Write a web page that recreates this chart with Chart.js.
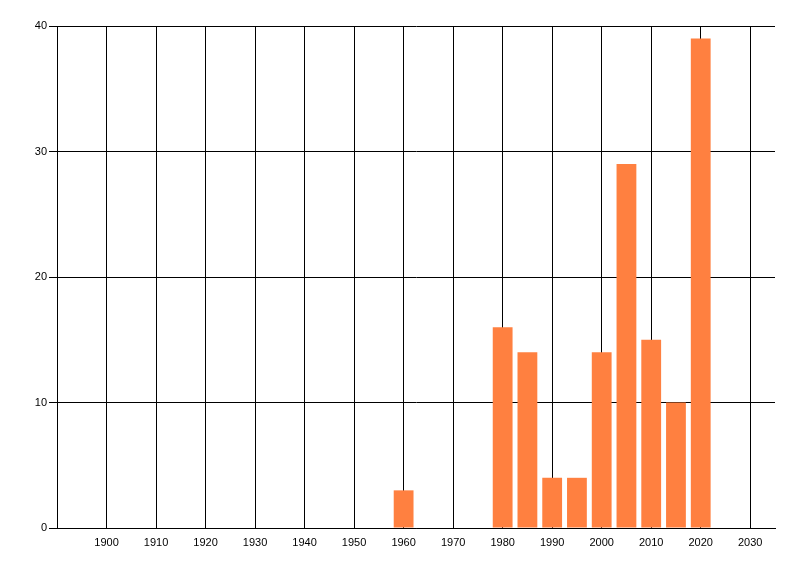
<!DOCTYPE html>
<html>
<head>
<meta charset="utf-8">
<script src="https://cdn.jsdelivr.net/npm/chart.js@4/dist/chart.umd.min.js"></script>
<style>
html,body{margin:0;padding:0;background:#fff;}
#wrap{width:800px;height:576px;position:relative;}
</style>
</head>
<body>
<div id="wrap"><canvas id="c" width="800" height="576"></canvas></div>
<script>
const years = [1960, 1980, 1985, 1990, 1995, 2000, 2005, 2010, 2015, 2020];
const counts = [3, 16, 14, 4, 4, 14, 29, 15, 10, 39];
const xTickValues = [1900, 1910, 1920, 1930, 1940, 1950, 1960, 1970, 1980, 1990, 2000, 2010, 2020, 2030];
const yTickValues = [0, 10, 20, 30, 40];
const xMin = 1890, xMax = 2035;
const yMin = 0, yMax = 40;

const points = years.map((yr, i) => ({x: yr, y: counts[i]}));
const font = {family: "'Liberation Sans', Arial, sans-serif", size: 11};

new Chart(document.getElementById('c'), {
  type: 'bar',
  data: {
    datasets: [{
      data: points,
      backgroundColor: 'rgb(255,128,64)',
      borderWidth: 0,
      barPercentage: 1.0,
      categoryPercentage: 0.8
    }]
  },
  options: {
    responsive: false,
    animation: false,
    devicePixelRatio: 1,
    layout: {padding: {left: 0, right: 25, top: 26, bottom: 0}},
    plugins: {legend: {display: false}, tooltip: {enabled: false}},
    scales: {
      x: {
        type: 'linear',
        min: xMin, max: xMax,
        offset: false,
        afterBuildTicks: s => { s.ticks = xTickValues.map(v => ({value: v})); },
        afterFit: s => { s.height = 48; },
        ticks: {color: '#000', font: font, padding: 8, maxRotation: 0, autoSkip: false,
                callback: v => String(v)},
        grid: {color: '#000', lineWidth: 1, drawTicks: false, offset: false},
        border: {color: '#000', width: 1}
      },
      y: {
        min: yMin, max: yMax,
        afterBuildTicks: s => { s.ticks = yTickValues.map(v => ({value: v})); },
        afterFit: s => { s.width = 57; },
        ticks: {color: '#000', font: font, padding: 2},
        grid: {color: '#000', lineWidth: 1, drawTicks: true, tickLength: 8},
        border: {color: '#000', width: 1}
      }
    }
  }
});
</script>
</body>
</html>
